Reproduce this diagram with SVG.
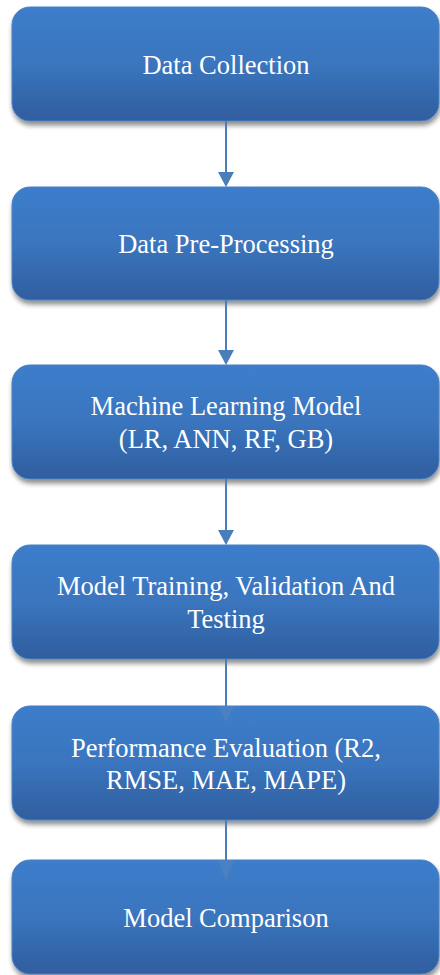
<svg xmlns="http://www.w3.org/2000/svg" width="440" height="975" viewBox="0 0 440 975">
<defs>
<linearGradient id="g" x1="0" y1="0" x2="0" y2="1">
<stop offset="0" stop-color="#3c7dcb"/>
<stop offset="0.5" stop-color="#3a75be"/>
<stop offset="1" stop-color="#2f5e9e"/>
</linearGradient>
<filter id="sh" x="-10%" y="-10%" width="125%" height="135%">
<feGaussianBlur in="SourceAlpha" stdDeviation="2.5"/>
<feOffset dx="1" dy="4" result="b"/>
<feComponentTransfer><feFuncA type="linear" slope="0.45"/></feComponentTransfer>
<feMerge><feMergeNode/><feMergeNode in="SourceGraphic"/></feMerge>
</filter>
<style>
.box{fill:url(#g);stroke:#4a80c4;stroke-width:1;filter:url(#sh)}
.t{font-family:"Liberation Serif","Times New Roman",serif;font-size:26.5px;fill:#ffffff;text-anchor:middle}
.c{stroke:#4a7ebb;stroke-width:2;fill:none}
.h{fill:#4a7ebb}
.hf{fill:#5585c0;opacity:0.55}
</style>
</defs>
<g id="n1"><rect class="box" x="12" y="7" width="427" height="114" rx="18"/><text class="t" x="226" y="74">Data Collection</text></g>
<g id="n2"><rect class="box" x="12" y="187" width="427" height="113" rx="18"/><text class="t" x="226" y="253">Data Pre-Processing</text></g>
<g id="n3"><rect class="box" x="12" y="365" width="427" height="114" rx="18"/><text class="t" x="226" y="415">Machine Learning Model</text><text class="t" x="226" y="448">(LR, ANN, RF, GB)</text></g>
<g id="n4"><rect class="box" x="12" y="545" width="427" height="114" rx="18"/><text class="t" x="226" y="595">Model Training, Validation And</text><text class="t" x="226" y="628">Testing</text></g>
<g id="n5"><rect class="box" x="12" y="706" width="427" height="114" rx="18"/><text class="t" x="226" y="757">Performance Evaluation (R2,</text><text class="t" x="226" y="789">RMSE, MAE, MAPE)</text></g>
<g id="n6"><rect class="box" x="12" y="860" width="427" height="114" rx="18"/><text class="t" x="226" y="927">Model Comparison</text></g>
<g id="connectors">
<line class="c" x1="226" y1="121" x2="226" y2="173"/><polygon class="h" points="218,172 234,172 226,187"/>
<line class="c" x1="226" y1="300" x2="226" y2="351"/><polygon class="h" points="218,350 234,350 226,365"/>
<line class="c" x1="226" y1="479" x2="226" y2="531"/><polygon class="h" points="218,530 234,530 226,545"/>
<line class="c" x1="226" y1="659" x2="226" y2="706"/><polygon class="hf" points="218,706 234,706 226,722"/>
<line class="c" x1="226" y1="820" x2="226" y2="860"/><polygon class="hf" points="218,860 234,860 226,881"/>
</g>
</svg>
